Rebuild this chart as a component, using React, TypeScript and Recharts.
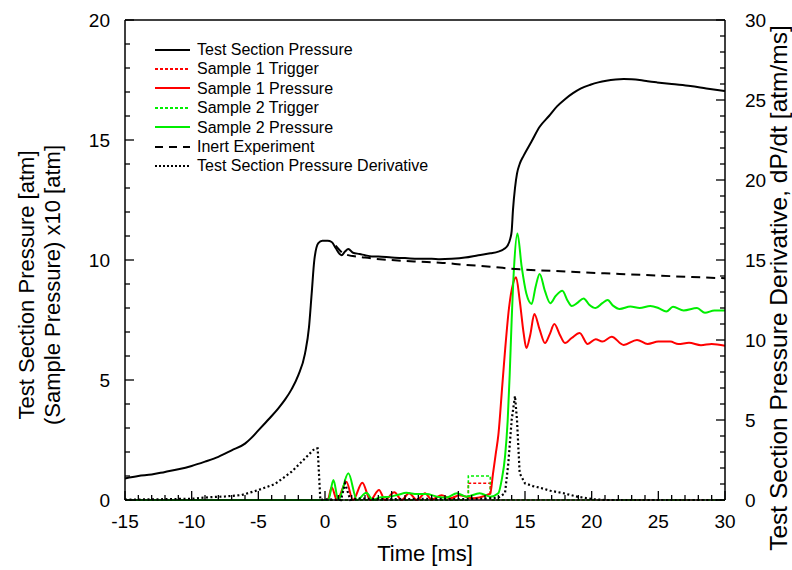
import { ComposedChart, Line, XAxis, YAxis } from 'recharts'

const FONT = '"Liberation Sans", Arial, sans-serif'

// time [ms] / value pairs
const testT = [-15, -14, -13, -12, -11, -10, -9, -8, -7, -6, -5.5, -5, -4.5, -4, -3.5, -3, -2.5, -2, -1.5, -1.2, -1, -0.8, -0.5, -0.2, 0.2, 0.5, 0.8, 1.1, 1.25, 1.5, 1.75, 2.1, 2.6, 3, 3.5, 4, 5, 6, 7, 8, 8.6, 9.5, 10.5, 11.5, 12.4, 13, 13.4, 13.7, 13.9, 14, 14.1, 14.25, 14.4, 14.6, 14.9, 15.5, 16.1, 16.8, 17.4, 18, 18.6, 19.2, 19.9, 20.5, 21.1, 21.8, 22.4, 23, 23.6, 24.2, 24.9, 26, 27.4, 28.6, 30]
const testP = [0.9, 1.0, 1.06, 1.17, 1.28, 1.42, 1.6, 1.8, 2.07, 2.35, 2.6, 2.9, 3.2, 3.5, 3.82, 4.18, 4.62, 5.2, 6.1, 7.2, 8.6, 10.0, 10.7, 10.8, 10.8, 10.75, 10.5, 10.25, 10.2, 10.35, 10.46, 10.3, 10.25, 10.2, 10.15, 10.15, 10.1, 10.08, 10.05, 10.05, 10.03, 10.05, 10.1, 10.2, 10.28, 10.35, 10.45, 10.6, 10.9, 11.2, 12.1, 13.0, 13.6, 14.0, 14.35, 14.95, 15.55, 16.0, 16.4, 16.7, 16.95, 17.15, 17.3, 17.4, 17.47, 17.52, 17.54, 17.53, 17.5, 17.45, 17.4, 17.33, 17.25, 17.15, 17.04]

const inertT = [0.8, 1.5, 3, 4.9, 7.1, 8.6, 10.5, 12.4, 14.6, 17, 19.5, 22.1, 25, 27.5, 30]
const inertP = [10.6, 10.24, 10.1, 10.0, 9.93, 9.89, 9.8, 9.72, 9.61, 9.55, 9.48, 9.42, 9.35, 9.29, 9.24]

const s1T = [-15, 0.2, 0.5, 0.9, 1.6, 2.1, 2.8, 3.4, 4.05, 4.5, 5.2, 5.75, 6.3, 6.9, 7.5, 8, 8.75, 9.4, 10.1, 11.1, 12.1, 12.4, 12.6, 12.8, 13, 13.3, 13.5, 13.8, 14.1, 14.33, 14.6, 14.9, 15.1, 15.4, 15.7, 16.1, 16.5, 16.85, 17.2, 17.6, 18, 18.5, 19.1, 19.7, 20.3, 20.8, 21.5, 22.4, 23.4, 24.2, 25, 25.9, 26.5, 27.3, 28.2, 29, 30]
const s1P = [0, 0, 0.53, 0, 0.76, 0, 0.72, 0, 0.42, 0, 0.32, 0, 0.28, 0, 0.28, 0.02, 0.2, 0.07, 0.2, 0.07, 0.2, 0.28, 1.1, 1.9, 2.7, 4.8, 6.2, 8.0, 9.0, 9.28, 8.33, 6.94, 6.33, 6.9, 7.75, 7.1, 6.54, 6.9, 7.33, 6.9, 6.54, 6.75, 6.96, 6.5, 6.7, 6.6, 6.8, 6.46, 6.67, 6.5, 6.6, 6.6, 6.5, 6.55, 6.45, 6.5, 6.43]

const s2T = [-15, 0.25, 0.63, 1, 1.75, 2.4, 3.1, 3.6, 4.1, 4.9, 5.5, 6.1, 6.9, 7.6, 8.4, 9.1, 9.9, 10.6, 11.6, 12.4, 13, 13.25, 13.5, 13.7, 13.85, 14, 14.18, 14.43, 14.75, 15.1, 15.5, 15.8, 16.1, 16.5, 16.9, 17.3, 17.8, 18.2, 18.5, 18.9, 19.4, 19.8, 20.3, 20.8, 21.2, 21.6, 22.1, 22.9, 23.6, 24.4, 25, 25.6, 26.1, 26.9, 27.9, 28.5, 29.2, 30]
const s2P = [0, 0, 0.83, 0, 1.11, 0, 0.3, 0, 0.1, 0.14, 0.22, 0.3, 0.25, 0.25, 0.14, 0.1, 0.28, 0.14, 0.28, 0.14, 0.28, 0.83, 1.8, 3.3, 5.2, 7.5, 9.72, 11.1, 9.72, 8.6, 8.17, 8.9, 9.42, 8.7, 8.2, 8.5, 8.72, 8.3, 8.08, 8.2, 8.4, 8.15, 8.0, 8.2, 8.33, 8.1, 7.96, 8.06, 8.0, 8.08, 8.0, 7.85, 8.05, 7.9, 8.0, 7.8, 7.9, 7.9]

const trigT = [-15, 10.75, 10.75, 12.4, 12.4, 30]
const trig1 = [0, 0, 0.7, 0.7, 0, 0]
const trig2 = [0, 0, 1.0, 1.0, 0, 0]

const dT = [-15, -12, -10, -8.75, -7.5, -6.25, -5, -3.75, -2.5, -1.5, -0.75, -0.55, -0.35, 0, 1.2, 1.5, 1.9, 2.5, 4, 6, 8, 10, 12, 13, 13.5, 13.75, 14, 14.25, 14.4, 14.5, 14.6, 15, 15.6, 16.2, 16.9, 17.9, 18.9, 20.1, 21, 25, 30]
const dV = [0.02, 0.05, 0.08, 0.17, 0.22, 0.31, 0.62, 1.0, 1.77, 2.6, 3.23, 3.23, 0, 0.05, 0, 1.04, 0, 0.1, 0.05, 0.05, 0.08, 0.05, 0.08, 0.15, 0.42, 2.3, 5.0, 6.5, 5.0, 3.33, 1.67, 1.04, 0.87, 0.75, 0.58, 0.42, 0.21, 0.05, 0, 0, 0]

const xTicks = Array.from({ length: 46 }, (_, i) => i - 15)
const leftTicks = Array.from({ length: 21 }, (_, i) => i)
const rightTicks = Array.from({ length: 31 }, (_, i) => i)

const zip = (t: number[], v: number[]) => t.map((x, i) => ({ t: x, v: v[i] }))

const legendItems = [
  { name: 'Test Section Pressure', color: '#000', dash: '' },
  { name: 'Sample 1 Trigger', color: '#ff0000', dash: '3 2' },
  { name: 'Sample 1 Pressure', color: '#ff0000', dash: '' },
  { name: 'Sample 2 Trigger', color: '#00ee00', dash: '3 2' },
  { name: 'Sample 2 Pressure', color: '#00ee00', dash: '' },
  { name: 'Inert Experiment', color: '#000', dash: '8 6' },
  { name: 'Test Section Pressure Derivative', color: '#000', dash: '2 2' },
]

function BottomTick({ x, y, payload }: any) {
  const major = payload.value % 5 === 0
  return (
    <g>
      <line x1={x} x2={x} y1={y} y2={y - (major ? 9 : 5)} stroke="#000" strokeWidth={1.3} />
      {major && (
        <text x={x} y={y + 28} textAnchor="middle" fontSize={19} fontFamily={FONT} fill="#000">
          {payload.value}
        </text>
      )}
    </g>
  )
}

function TopTick({ x, y, payload }: any) {
  const major = payload.value % 5 === 0
  return <line x1={x} x2={x} y1={y} y2={y + (major ? 9 : 5)} stroke="#000" strokeWidth={1.3} />
}

function LeftTick({ x, y, payload }: any) {
  const major = payload.value % 5 === 0
  return (
    <g>
      <line x1={x} x2={x + (major ? 9 : 5)} y1={y} y2={y} stroke="#000" strokeWidth={1.3} />
      {major && (
        <text x={x - 15} y={y} dy="0.36em" textAnchor="end" fontSize={19} fontFamily={FONT} fill="#000">
          {payload.value}
        </text>
      )}
    </g>
  )
}

function RightTick({ x, y, payload }: any) {
  const major = payload.value % 5 === 0
  return (
    <g>
      <line x1={x} x2={x - (major ? 9 : 5)} y1={y} y2={y} stroke="#000" strokeWidth={1.3} />
      {major && (
        <text x={x + 20} y={y} dy="0.36em" textAnchor="start" fontSize={19} fontFamily={FONT} fill="#000">
          {payload.value}
        </text>
      )}
    </g>
  )
}

function VText({ x, y, size = 22, children }: { x: number; y: number; size?: number; children: string }) {
  return (
    <text x={x} y={y} transform={`rotate(-90, ${x}, ${y})`} textAnchor="middle" dominantBaseline="central"
      fontSize={size} fontFamily={FONT} fill="#000">
      {children}
    </text>
  )
}

export default function App() {
  const axisLine = { stroke: '#000', strokeWidth: 1.5 }
  return (
    <div style={{ position: 'absolute', left: 0, top: 0, width: 792, height: 570, background: '#fff' }}>
      <ComposedChart width={792} height={570} margin={{ top: 0, right: 0, bottom: 0, left: 0 }}>
        <XAxis dataKey="t" type="number" domain={[-15, 30]} ticks={xTicks} interval={0}
          tickSize={0} tickMargin={0} tickLine={false} axisLine={axisLine} height={70}
          tick={<BottomTick />}
          label={{ content: () => (
            <text x={425} y={553} textAnchor="middle" dominantBaseline="central" fontSize={22} fontFamily={FONT}>Time [ms]</text>
          ) }} />
        <XAxis xAxisId="top" orientation="top" dataKey="t" type="number" domain={[-15, 30]} ticks={xTicks}
          interval={0} tickSize={0} tickMargin={0} tickLine={false} axisLine={axisLine} height={20}
          tick={<TopTick />} />
        <YAxis type="number" domain={[0, 20]} ticks={leftTicks} interval={0} tickSize={0} tickMargin={0}
          tickLine={false} axisLine={axisLine} width={125} tick={<LeftTick />}
          label={{ content: () => (
            <g>
              <VText x={26} y={285}>Test Section Pressure [atm]</VText>
              <VText x={52} y={285}>(Sample Pressure) x10 [atm]</VText>
            </g>
          ) }} />
        <YAxis yAxisId="right" orientation="right" type="number" domain={[0, 30]} ticks={rightTicks}
          interval={0} tickSize={0} tickMargin={0} tickLine={false} axisLine={axisLine} width={67}
          tick={<RightTick />}
          label={{ content: () => (
            <VText x={778} y={288} size={24.5}>Test Section Pressure Derivative, dP/dt [atm/ms]</VText>
          ) }} />

        <Line data={zip(trigT, trig1)} dataKey="v" type="linear" stroke="#ff0000" strokeWidth={1.6}
          strokeDasharray="3 2" dot={false} isAnimationActive={false} />
        <Line data={zip(trigT, trig2)} dataKey="v" type="linear" stroke="#00ee00" strokeWidth={1.6}
          strokeDasharray="3 2" dot={false} isAnimationActive={false} />
        <Line data={zip(s1T, s1P)} dataKey="v" type="monotone" stroke="#ff0000" strokeWidth={2}
          dot={false} isAnimationActive={false} />
        <Line data={zip(s2T, s2P)} dataKey="v" type="monotone" stroke="#00ee00" strokeWidth={2}
          dot={false} isAnimationActive={false} />
        <Line data={zip(testT, testP)} dataKey="v" type="monotone" stroke="#000" strokeWidth={2}
          dot={false} isAnimationActive={false} />
        <Line data={zip(inertT, inertP)} dataKey="v" type="monotone" stroke="#000" strokeWidth={2}
          strokeDasharray="9 6" dot={false} isAnimationActive={false} />
        <Line yAxisId="right" data={zip(dT, dV)} dataKey="v" type="linear" stroke="#000" strokeWidth={2.2}
          strokeDasharray="2 2.5" dot={false} isAnimationActive={false} />
      </ComposedChart>

      <div style={{ position: 'absolute', left: 153, top: 40, fontFamily: FONT, fontSize: 16, lineHeight: '19.4px', color: '#000' }}>
        {legendItems.map(item => (
          <div key={item.name} style={{ display: 'flex', alignItems: 'center', height: 19.4 }}>
            <svg width={40} height={10} style={{ marginRight: 4 }}>
              <line x1={2} x2={37} y1={5} y2={5} stroke={item.color} strokeWidth={2} strokeDasharray={item.dash} />
            </svg>
            <span>{item.name}</span>
          </div>
        ))}
      </div>
    </div>
  )
}
